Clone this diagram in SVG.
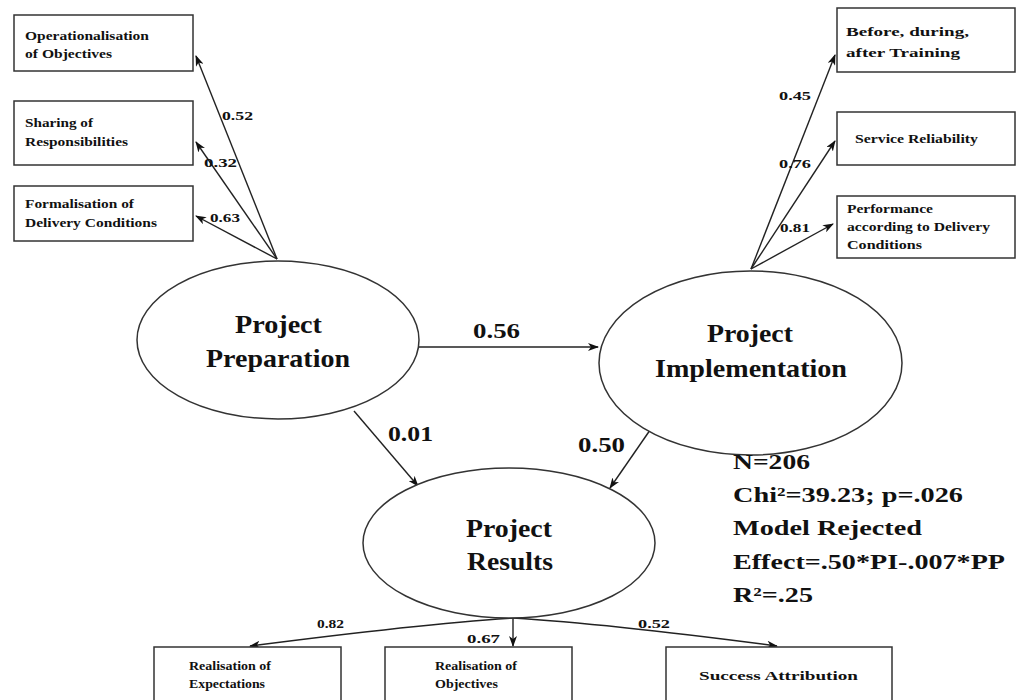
<svg xmlns="http://www.w3.org/2000/svg" width="1018" height="700" viewBox="0 0 1018 700">
<style>
.bg{fill:#ffffff}
.box{fill:#ffffff;stroke:#333333;stroke-width:1.5}
.ell{fill:#ffffff;stroke:#333333;stroke-width:1.5}
.edge{fill:none;stroke:#222222;stroke-width:1.4;marker-end:url(#arr)}
text{font-family:"Liberation Serif","Times New Roman",serif;font-weight:bold;fill:#111111}
.big{font-size:26px}
.stat{font-size:22px}
.sm{font-size:12px}
.lab{font-size:13px}
.blab{font-size:22px}
</style>
<defs>
<marker id="arr" markerWidth="11" markerHeight="8" refX="10" refY="4" orient="auto" markerUnits="userSpaceOnUse">
<path d="M0,0 L11,4 L0,8 L3,4 z" fill="#111111"/>
</marker>
</defs>
<rect class="bg" x="0" y="0" width="1018" height="700"/>

<g id="connectors">
<line class="edge" x1="277" y1="259" x2="196" y2="56"/>
<line class="edge" x1="277" y1="259" x2="196" y2="142"/>
<line class="edge" x1="277" y1="259" x2="196" y2="216"/>
<line class="edge" x1="751" y1="269" x2="835" y2="55"/>
<line class="edge" x1="751" y1="269" x2="835" y2="141"/>
<line class="edge" x1="751" y1="269" x2="833" y2="224"/>
<line class="edge" x1="419" y1="347" x2="598" y2="347"/>
<line class="edge" x1="354" y1="411" x2="418" y2="486"/>
<line class="edge" x1="657" y1="420" x2="610" y2="488"/>
<path class="edge" d="M513,618 Q420,624 250,646"/>
<line class="edge" x1="513" y1="618" x2="513" y2="646"/>
<path class="edge" d="M513,618 Q610,624 777,646"/>
<text class="lab" x="222" y="120" textLength="31" lengthAdjust="spacingAndGlyphs">0.52</text>
<text class="lab" x="204" y="167" textLength="33" lengthAdjust="spacingAndGlyphs">0.32</text>
<text class="lab" x="210" y="222" textLength="30" lengthAdjust="spacingAndGlyphs">0.63</text>
<text class="lab" x="779" y="100" textLength="32" lengthAdjust="spacingAndGlyphs">0.45</text>
<text class="lab" x="779" y="168" textLength="32" lengthAdjust="spacingAndGlyphs">0.76</text>
<text class="lab" x="780" y="232" textLength="30" lengthAdjust="spacingAndGlyphs">0.81</text>
<text class="lab" x="317" y="628" textLength="27" lengthAdjust="spacingAndGlyphs">0.82</text>
<text class="lab" x="467" y="643" textLength="33" lengthAdjust="spacingAndGlyphs">0.67</text>
<text class="lab" x="638" y="628" textLength="32" lengthAdjust="spacingAndGlyphs">0.52</text>
<text class="blab" x="473" y="338" textLength="47" lengthAdjust="spacingAndGlyphs">0.56</text>
<text class="blab" x="388" y="441" textLength="45" lengthAdjust="spacingAndGlyphs">0.01</text>
<text class="blab" x="578" y="452" textLength="47" lengthAdjust="spacingAndGlyphs">0.50</text>
</g>

<g id="op-objectives">
<rect class="box" x="14" y="15" width="179" height="56"/>
<text class="sm" x="25" y="40" textLength="124" lengthAdjust="spacingAndGlyphs">Operationalisation</text>
<text class="sm" x="25" y="58" textLength="87" lengthAdjust="spacingAndGlyphs">of Objectives</text>
</g>
<g id="sharing">
<rect class="box" x="14" y="101" width="179" height="64"/>
<text class="sm" x="25" y="127" textLength="68" lengthAdjust="spacingAndGlyphs">Sharing of</text>
<text class="sm" x="25" y="146" textLength="103" lengthAdjust="spacingAndGlyphs">Responsibilities</text>
</g>
<g id="formalisation">
<rect class="box" x="14" y="186" width="179" height="55"/>
<text class="sm" x="25" y="208" textLength="109" lengthAdjust="spacingAndGlyphs">Formalisation of</text>
<text class="sm" x="25" y="227" textLength="132" lengthAdjust="spacingAndGlyphs">Delivery Conditions</text>
</g>
<g id="training">
<rect class="box" x="837" y="8" width="178" height="64"/>
<text class="sm" x="846" y="36" textLength="123" lengthAdjust="spacingAndGlyphs">Before, during,</text>
<text class="sm" x="846" y="57" textLength="114" lengthAdjust="spacingAndGlyphs">after Training</text>
</g>
<g id="reliability">
<rect class="box" x="837" y="112" width="178" height="53"/>
<text class="sm" x="855" y="143" textLength="123" lengthAdjust="spacingAndGlyphs">Service Reliability</text>
</g>
<g id="performance">
<rect class="box" x="837" y="196" width="178" height="62"/>
<text class="sm" x="847" y="213" textLength="86" lengthAdjust="spacingAndGlyphs">Performance</text>
<text class="sm" x="847" y="231" textLength="143" lengthAdjust="spacingAndGlyphs">according to Delivery</text>
<text class="sm" x="847" y="249" textLength="75" lengthAdjust="spacingAndGlyphs">Conditions</text>
</g>

<g id="preparation">
<ellipse class="ell" cx="278" cy="340" rx="141" ry="79"/>
<text class="big" x="235" y="333" textLength="87" lengthAdjust="spacingAndGlyphs">Project</text>
<text class="big" x="206" y="367" textLength="144" lengthAdjust="spacingAndGlyphs">Preparation</text>
</g>
<g id="implementation">
<ellipse class="ell" cx="750.5" cy="363" rx="151.5" ry="92"/>
<text class="big" x="707" y="342" textLength="86" lengthAdjust="spacingAndGlyphs">Project</text>
<text class="big" x="655" y="377" textLength="192" lengthAdjust="spacingAndGlyphs">Implementation</text>
</g>
<g id="results">
<ellipse class="ell" cx="509" cy="543" rx="146" ry="75"/>
<text class="big" x="466" y="537" textLength="86" lengthAdjust="spacingAndGlyphs">Project</text>
<text class="big" x="467" y="570" textLength="86" lengthAdjust="spacingAndGlyphs">Results</text>
</g>

<g id="expectations">
<rect class="box" x="154" y="647" width="187" height="66"/>
<text class="sm" x="189" y="670" textLength="82" lengthAdjust="spacingAndGlyphs">Realisation of</text>
<text class="sm" x="189" y="688" textLength="76" lengthAdjust="spacingAndGlyphs">Expectations</text>
</g>
<g id="res-objectives">
<rect class="box" x="385" y="647" width="187" height="66"/>
<text class="sm" x="435" y="670" textLength="82" lengthAdjust="spacingAndGlyphs">Realisation of</text>
<text class="sm" x="435" y="688" textLength="63" lengthAdjust="spacingAndGlyphs">Objectives</text>
</g>
<g id="success">
<rect class="box" x="666" y="647" width="226" height="66"/>
<text class="sm" x="699" y="680" textLength="159" lengthAdjust="spacingAndGlyphs">Success Attribution</text>
</g>

<g id="stats">
<text class="stat" x="733" y="469" textLength="77" lengthAdjust="spacingAndGlyphs">N=206</text>
<text class="stat" x="733" y="502" textLength="230" lengthAdjust="spacingAndGlyphs">Chi²=39.23; p=.026</text>
<text class="stat" x="733" y="535" textLength="189" lengthAdjust="spacingAndGlyphs">Model Rejected</text>
<text class="stat" x="733" y="569" textLength="272" lengthAdjust="spacingAndGlyphs">Effect=.50*PI-.007*PP</text>
<text class="stat" x="733" y="602" textLength="80" lengthAdjust="spacingAndGlyphs">R²=.25</text>
</g>
</svg>
